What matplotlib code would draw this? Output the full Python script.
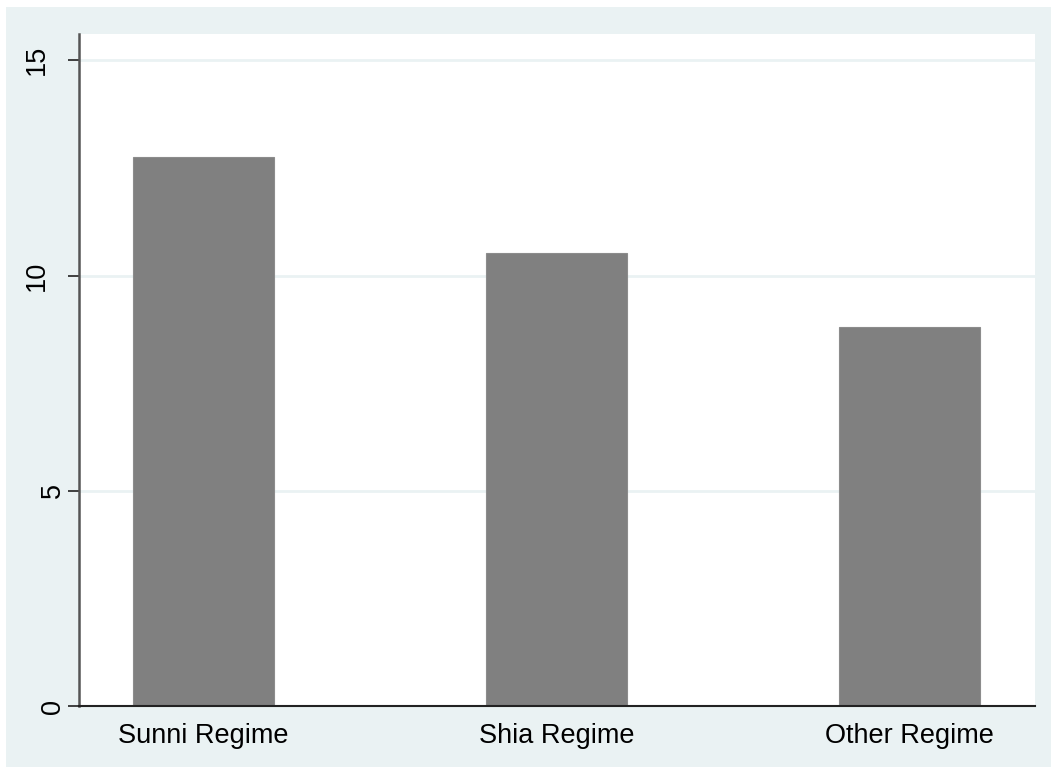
import matplotlib
matplotlib.use("Agg")
import matplotlib.pyplot as plt
import matplotlib.transforms as mtransforms
from matplotlib.patches import Rectangle

categories = ["Sunni Regime", "Shia Regime", "Other Regime"]
values = [12.75, 10.53, 8.81]
yticks = [0, 5, 10, 15]

BG = "#eaf2f3"
BAR = "#808080"

plt.rcParams["font.family"] = ["Liberation Sans", "DejaVu Sans"]

W, H = 1051, 771
fig = plt.figure(figsize=(W / 100, H / 100), dpi=100, facecolor="white")
# Stata-style outer region, inset a few pixels from the image border
fig.patches.append(
    Rectangle((6 / W, 1 - 767 / H), (W - 6) / W, (767 - 7) / H,
              transform=fig.transFigure, facecolor=BG, edgecolor="none", zorder=-10)
)

ax = fig.add_axes([79 / W, 1 - 706 / H, (1035 - 79) / W, (706 - 34) / H])
ax.set_zorder(1)
ax.set_facecolor("white")

x = range(len(categories))
ax.bar(x, values, width=0.4, color=BAR, edgecolor="#8c8c8c", linewidth=0.8, zorder=2)

ax.set_xlim(-0.353, 2.356)
ax.set_ylim(0, 15.61)
ax.set_xticks(list(x))
ax.set_xticklabels(categories, fontsize=19.5)
ax.set_yticks(yticks)

# Stata places rotated labels by their unrotated width, so 1-digit labels
# sit closer to the axis than 2-digit ones
ytrans = mtransforms.blended_transform_factory(ax.transAxes, ax.transData)
for t in yticks:
    lab = str(t)
    dx = -26 if len(lab) == 1 else -42
    tr = mtransforms.offset_copy(ytrans, fig=fig, x=dx, y=0, units="dots")
    ax.text(0, t, lab, transform=tr, fontsize=19.5, rotation=90,
            ha="center", va="center", clip_on=False)

ax.grid(axis="y", color=BG, linewidth=2, zorder=1)
ax.set_axisbelow(True)

for side in ("top", "right"):
    ax.spines[side].set_visible(False)
ax.spines["left"].set_color("#555555")
ax.spines["left"].set_linewidth(1.8)
ax.spines["bottom"].set_color("#222222")
ax.spines["bottom"].set_linewidth(1.5)

ax.tick_params(axis="x", length=0, pad=12)
ax.tick_params(axis="y", length=8, width=1.2, color="#222222", labelleft=False)

fig.savefig("out.png", dpi=100, facecolor="white")
